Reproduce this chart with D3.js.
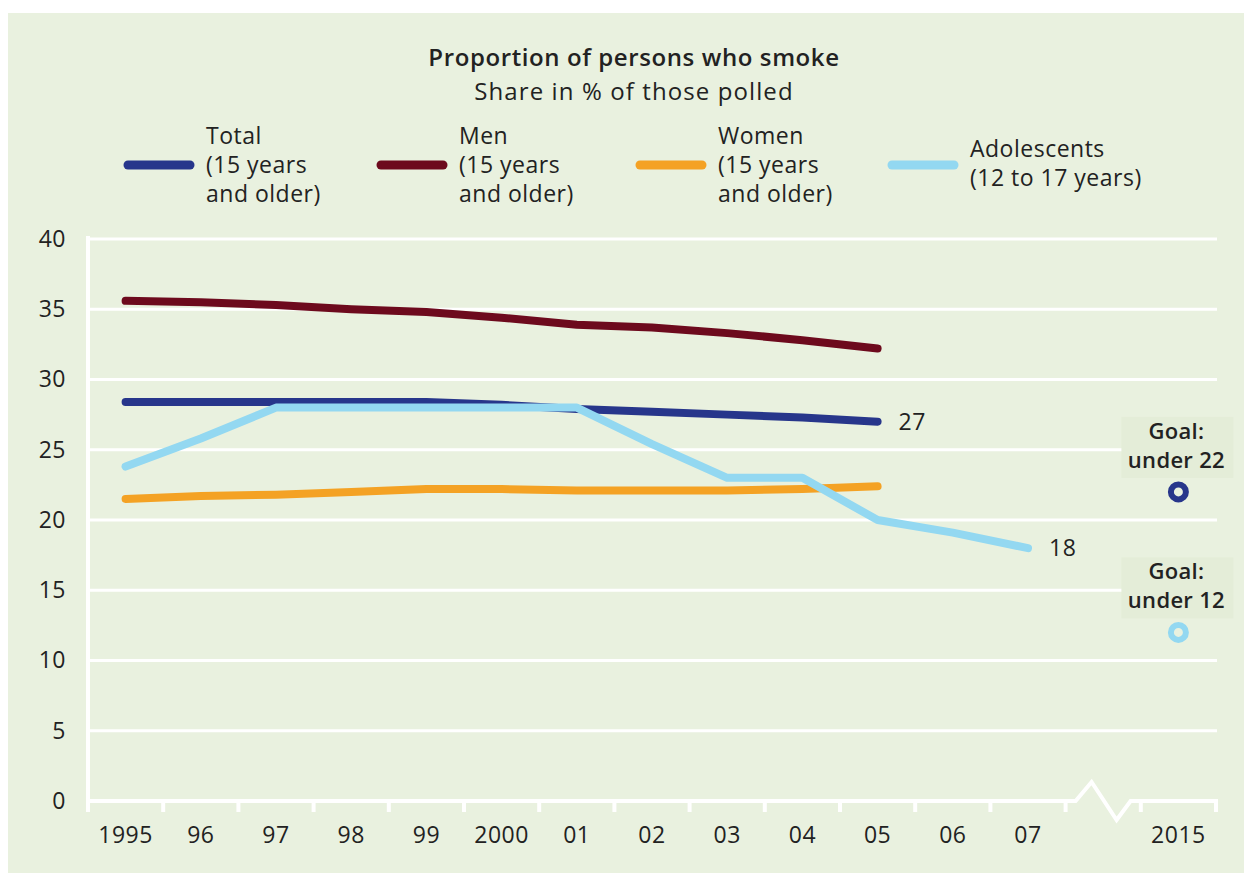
<!DOCTYPE html>
<html>
<head>
<meta charset="utf-8">
<script src="https://cdn.jsdelivr.net/npm/d3@7"></script>
<style>
  html, body { margin: 0; padding: 0; background: #ffffff; }
  svg text { font-family: "Open Sans", "Noto Sans", sans-serif; fill: #222222; }
</style>
</head>
<body>
<svg id="chart" width="1244" height="873"></svg>
<script>
// Categories along the x axis; the blank slot is the axis break before 2015
const years = ["1995", "96", "97", "98", "99", "2000", "01", "02", "03", "04", "05", "06", "07", "", "2015"];
const yTicks = [0, 5, 10, 15, 20, 25, 30, 35, 40];

// Smoking rates, share in % of those polled
const totalYears = ["1995", "96", "97", "98", "99", "2000", "01", "02", "03", "04", "05"];
const totalValues = [28.4, 28.4, 28.4, 28.4, 28.4, 28.2, 27.9, 27.7, 27.5, 27.3, 27.0];
const menValues = [35.6, 35.5, 35.3, 35.0, 34.8, 34.4, 33.9, 33.7, 33.3, 32.8, 32.2];
const womenValues = [21.5, 21.7, 21.8, 22.0, 22.2, 22.2, 22.1, 22.1, 22.1, 22.2, 22.4];
const teenYears = ["1995", "96", "97", "98", "99", "2000", "01", "02", "03", "04", "05", "06", "07"];
const teenValues = [23.8, 25.8, 28.0, 28.0, 28.0, 28.0, 28.0, 25.4, 23.0, 23.0, 20.0, 19.1, 18.0];

// 2015 targets
const goalYear = "2015";
const goalValues = [22, 12];
const goalColors = ["#27368b", "#93d8f1"];

const seriesNames = ["Total", "Men", "Women", "Adolescents"];
const seriesColors = ["#27368b", "#6d0a1d", "#f4a224", "#93d8f1"];
const legendLines = [
  ["Total", "(15 years", "and older)"],
  ["Men", "(15 years", "and older)"],
  ["Women", "(15 years", "and older)"],
  ["Adolescents", "(12 to 17 years)"]
];

const bg = "#e9f1df";
const svg = d3.select("#chart");

// panel background
svg.append("rect").attr("x", 8).attr("y", 13).attr("width", 1236).attr("height", 860).attr("fill", bg);

// title
svg.append("text").attr("x", 634).attr("y", 66).attr("text-anchor", "middle")
  .style("font-size", "24px").style("font-weight", 600).style("letter-spacing", "0.6px")
  .text("Proportion of persons who smoke");
svg.append("text").attr("x", 634).attr("y", 100).attr("text-anchor", "middle")
  .style("font-size", "24px").style("letter-spacing", "1.1px")
  .text("Share in % of those polled");

// scales
const x = d3.scaleBand().domain(years).range([88, 1216]).padding(0);
const cx = d => x(d) + x.bandwidth() / 2;
const y = d3.scaleLinear().domain([0, 40]).range([801, 239]);

// horizontal gridlines
svg.append("g").selectAll("line").data(yTicks.filter(t => t > 0)).join("line")
  .attr("x1", 90).attr("x2", 1217)
  .attr("y1", d => y(d)).attr("y2", d => y(d))
  .attr("stroke", "#ffffff").attr("stroke-width", 3);

// y axis labels
const yAxis = svg.append("g").attr("transform", "translate(88,0)")
  .call(d3.axisLeft(y).tickValues(yTicks).tickSize(0).tickPadding(22));
yAxis.select(".domain").remove();
yAxis.selectAll("text").style("font-size", "23px").style("letter-spacing", "0.5px").attr("fill", "#222");

// x axis labels
const xAxis = svg.append("g").attr("transform", `translate(0,${y(0)})`)
  .call(d3.axisBottom(x).tickSize(0).tickPadding(26));
xAxis.select(".domain").remove();
xAxis.selectAll("text").style("font-size", "23px").style("letter-spacing", "0.5px").attr("fill", "#222");

// y axis line
svg.append("line").attr("x1", 88).attr("x2", 88).attr("y1", 236).attr("y2", y(0) + 11)
  .attr("stroke", "#ffffff").attr("stroke-width", 4);

// x axis line with break mark in the empty slot
const breakStart = x("") + 10;
const axisY = y(0);
const axisPath = d3.path();
axisPath.moveTo(86, axisY);
axisPath.lineTo(breakStart, axisY);
axisPath.lineTo(breakStart + 16, axisY - 19);
axisPath.lineTo(breakStart + 41, axisY + 19);
axisPath.lineTo(breakStart + 55, axisY);
axisPath.lineTo(1218, axisY);
svg.append("path").attr("d", axisPath.toString()).attr("fill", "none")
  .attr("stroke", "#ffffff").attr("stroke-width", 4).attr("stroke-linejoin", "miter");

// tick marks at category boundaries
svg.append("g").selectAll("line").data(years).join("line")
  .attr("x1", d => x(d) + x.bandwidth()).attr("x2", d => x(d) + x.bandwidth())
  .attr("y1", axisY).attr("y2", axisY + 11)
  .attr("stroke", "#ffffff").attr("stroke-width", 4);

// series lines
const line = d3.line().x(d => cx(d[0])).y(d => y(d[1]));
const seriesData = [
  d3.zip(totalYears, totalValues),
  d3.zip(totalYears, menValues),
  d3.zip(totalYears, womenValues),
  d3.zip(teenYears, teenValues)
];
const drawOrder = [1, 0, 2, 3];
svg.append("g").selectAll("path").data(drawOrder).join("path")
  .attr("d", i => line(seriesData[i]))
  .attr("fill", "none")
  .attr("stroke", i => seriesColors[i])
  .attr("stroke-width", 8)
  .attr("stroke-linecap", "round")
  .attr("stroke-linejoin", "round");

// end value labels
[0, 3].forEach(i => {
  const last = seriesData[i][seriesData[i].length - 1];
  svg.append("text")
    .attr("x", cx(last[0]) + 21).attr("y", y(last[1])).attr("dy", "0.36em")
    .style("font-size", "23px").style("letter-spacing", "0.5px")
    .text(d3.format(".0f")(last[1]));
});

// goal markers with labels
goalValues.forEach((g, i) => {
  const gx = cx(goalYear), gy = y(g);
  svg.append("rect")
    .attr("x", gx - 57).attr("y", gy - 75).attr("width", 112).attr("height", 61)
    .attr("fill", "#e4edd8");
  svg.append("text").attr("x", gx - 2).attr("y", gy - 53).attr("text-anchor", "middle")
    .style("font-size", "22px").style("font-weight", 600).style("letter-spacing", "0.3px").text("Goal:");
  svg.append("text").attr("x", gx - 2).attr("y", gy - 24).attr("text-anchor", "middle")
    .style("font-size", "22px").style("font-weight", 600).style("letter-spacing", "0.3px").text("under " + g);
  svg.append("circle").attr("cx", gx).attr("cy", gy).attr("r", 7.5)
    .attr("fill", bg).attr("stroke", goalColors[i]).attr("stroke-width", 6);
});

// legend
const legendX = [128, 381, 640, 892];
const lg = svg.append("g").selectAll("g").data(seriesNames).join("g");
lg.append("line")
  .attr("x1", (d, i) => legendX[i]).attr("x2", (d, i) => legendX[i] + 62)
  .attr("y1", 165).attr("y2", 165)
  .attr("stroke", (d, i) => seriesColors[i]).attr("stroke-width", 9)
  .attr("stroke-linecap", "round");
lg.each(function (d, i) {
  const lines = legendLines[i];
  const firstBaseline = lines.length === 3 ? 144 : 157;
  const t = d3.select(this).append("text")
    .attr("x", legendX[i] + 78).attr("y", firstBaseline)
    .style("font-size", "23px").style("letter-spacing", "0.5px");
  lines.forEach((s, k) => {
    t.append("tspan").attr("x", legendX[i] + 78).attr("y", firstBaseline + k * 29).text(s);
  });
});
</script>
</body>
</html>
